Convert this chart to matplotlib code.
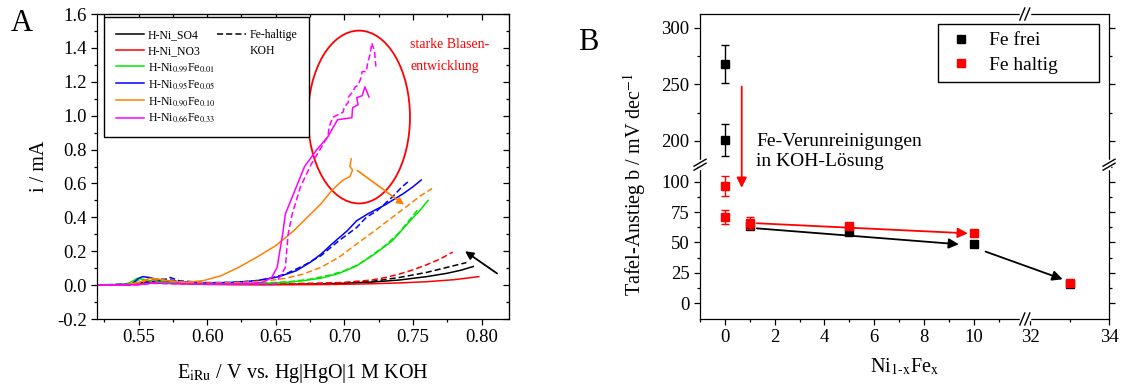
import numpy as np
import matplotlib
matplotlib.use('Agg')
import matplotlib.pyplot as plt
from matplotlib.lines import Line2D
from matplotlib.patches import Ellipse

plt.rcParams['font.family'] = ['Liberation Serif', 'DejaVu Serif']
plt.rcParams['mathtext.fontset'] = 'stix'
plt.rcParams['axes.unicode_minus'] = False

# ---------------- Panel A: current vs potential (solid = Fe-free KOH, dashed = Fe-haltige KOH)
so4_x = [0.52, 0.54, 0.55, 0.56, 0.57, 0.58, 0.60, 0.62, 0.64, 0.66, 0.68, 0.70, 0.72, 0.74, 0.76, 0.775, 0.785, 0.794]
so4_y = [0.0, 0.002, 0.01, 0.025, 0.02, 0.012, 0.006, 0.004, 0.004, 0.005, 0.007, 0.011, 0.018, 0.03, 0.05, 0.07, 0.088, 0.11]
so4_fe_x = [0.52, 0.55, 0.56, 0.57, 0.58, 0.60, 0.64, 0.68, 0.70, 0.72, 0.74, 0.76, 0.77, 0.789]
so4_fe_y = [0.0, 0.005, 0.03, 0.035, 0.02, 0.01, 0.006, 0.01, 0.014, 0.022, 0.045, 0.075, 0.095, 0.133]

no3_x = [0.52, 0.55, 0.56, 0.57, 0.60, 0.64, 0.68, 0.70, 0.72, 0.74, 0.76, 0.78, 0.798]
no3_y = [0.0, 0.004, 0.015, 0.012, 0.004, 0.002, 0.003, 0.005, 0.008, 0.013, 0.02, 0.032, 0.05]
no3_fe_x = [0.52, 0.55, 0.56, 0.57, 0.60, 0.64, 0.68, 0.70, 0.72, 0.73, 0.74, 0.75, 0.76, 0.77, 0.779]
no3_fe_y = [0.0, 0.005, 0.025, 0.02, 0.008, 0.006, 0.01, 0.016, 0.03, 0.045, 0.065, 0.09, 0.12, 0.155, 0.195]

fe01_x = [0.52, 0.54, 0.545, 0.549, 0.553, 0.56, 0.57, 0.58, 0.60, 0.62, 0.64, 0.657, 0.67, 0.683, 0.696, 0.709, 0.722, 0.735, 0.748, 0.755, 0.761]
fe01_y = [0.0, 0.003, 0.02, 0.04, 0.035, 0.02, 0.015, 0.012, 0.008, 0.008, 0.01, 0.016, 0.026, 0.041, 0.069, 0.114, 0.183, 0.262, 0.38, 0.44, 0.50]
fe01_fe_x = [0.52, 0.545, 0.55, 0.556, 0.565, 0.58, 0.60, 0.62, 0.64, 0.66, 0.675, 0.69, 0.70, 0.71, 0.72, 0.73, 0.74, 0.748, 0.754]
fe01_fe_y = [0.0, 0.01, 0.03, 0.03, 0.02, 0.012, 0.008, 0.008, 0.012, 0.02, 0.035, 0.06, 0.085, 0.12, 0.175, 0.235, 0.31, 0.39, 0.45]

fe05_x = [0.52, 0.545, 0.55, 0.553, 0.558, 0.565, 0.58, 0.60, 0.618, 0.636, 0.652, 0.665, 0.675, 0.683, 0.691, 0.702, 0.709, 0.717, 0.730, 0.743, 0.750, 0.756]
fe05_y = [0.0, 0.006, 0.04, 0.05, 0.045, 0.03, 0.02, 0.012, 0.016, 0.026, 0.049, 0.085, 0.134, 0.183, 0.243, 0.32, 0.38, 0.42, 0.475, 0.54, 0.58, 0.62]
fe05_fe_x = [0.52, 0.55, 0.56, 0.565, 0.57, 0.573, 0.58, 0.60, 0.62, 0.631, 0.644, 0.657, 0.670, 0.683, 0.696, 0.709, 0.716, 0.724, 0.735, 0.742, 0.748]
fe05_fe_y = [0.0, 0.005, 0.02, 0.035, 0.03, 0.045, 0.025, 0.015, 0.016, 0.022, 0.036, 0.065, 0.114, 0.174, 0.262, 0.34, 0.40, 0.44, 0.52, 0.58, 0.62]

fe10_x = [0.52, 0.54, 0.55, 0.558, 0.565, 0.571, 0.584, 0.597, 0.610, 0.623, 0.636, 0.650, 0.663, 0.673, 0.683, 0.691, 0.699, 0.704, 0.706, 0.704, 0.705]
fe10_y = [0.0, 0.002, 0.016, 0.04, 0.035, 0.026, 0.016, 0.026, 0.055, 0.105, 0.164, 0.233, 0.32, 0.40, 0.48, 0.56, 0.62, 0.64, 0.68, 0.70, 0.745]
fe10_fe_x = [0.52, 0.55, 0.556, 0.565, 0.58, 0.60, 0.62, 0.644, 0.657, 0.670, 0.683, 0.696, 0.709, 0.722, 0.735, 0.748, 0.756, 0.764]
fe10_fe_y = [0.0, 0.005, 0.03, 0.03, 0.02, 0.012, 0.014, 0.026, 0.04, 0.065, 0.105, 0.164, 0.243, 0.32, 0.40, 0.48, 0.53, 0.57]

fe33_x = [0.52, 0.55, 0.56, 0.58, 0.60, 0.62, 0.64, 0.647, 0.651, 0.655, 0.657, 0.661, 0.665, 0.671, 0.680, 0.688,
          0.695, 0.7055, 0.706, 0.710, 0.709, 0.713, 0.715, 0.718]
fe33_y = [0.0, 0.003, 0.012, 0.008, 0.005, 0.006, 0.015, 0.045, 0.105, 0.30, 0.42, 0.50, 0.58, 0.70, 0.80, 0.876,
          0.976, 0.988, 1.047, 1.065, 1.106, 1.118, 1.17, 1.11]
fe33_fe_x = [0.52, 0.55, 0.56, 0.60, 0.64, 0.650, 0.657, 0.659, 0.662, 0.668, 0.676, 0.683, 0.688, 0.689, 0.6915,
             0.699, 0.700, 0.703, 0.703, 0.706, 0.708, 0.710, 0.712, 0.713, 0.716, 0.717, 0.719, 0.720, 0.722, 0.723]
fe33_fe_y = [0.0, 0.002, 0.01, 0.005, 0.006, 0.006, 0.105, 0.30, 0.42, 0.58, 0.716, 0.81, 0.88, 0.935, 0.99,
             1.02, 1.05, 1.08, 1.11, 1.14, 1.17, 1.18, 1.22, 1.26, 1.26, 1.31, 1.37, 1.43, 1.38, 1.29]

labels_A = ['H-Ni_SO4', 'H-Ni_NO3', 'H-Ni$_{0.99}$Fe$_{0.01}$', 'H-Ni$_{0.95}$Fe$_{0.05}$',
            'H-Ni$_{0.90}$Fe$_{0.10}$', 'H-Ni$_{0.66}$Fe$_{0.33}$']
colors_A = ['black', '#ff0000', '#00e600', '#0000ff', '#ff8000', '#ff00ff']

# ---------------- Panel B: Tafel slopes
frei_x = [0, 0, 1, 5, 10, 33]
frei_y = [268, 201, 63.5, 58.5, 48.5, 15.5]
frei_err = [17, 14, 0, 0, 0, 0]
haltig_x = [0, 0, 1, 5, 10, 33]
haltig_y = [96.5, 71, 66, 63.5, 57.5, 16.5]
haltig_err = [8, 6, 5, 2, 1.5, 1.5]

fig = plt.figure(figsize=(11.24, 3.87), dpi=100)
axA = fig.add_axes([0.0867, 0.1757, 0.3661, 0.7881])
axB = fig.add_axes([0.6228, 0.1757, 0.3639, 0.7881])

dash = (0, (4, 2))

#############
# Panel A
#############
solids = [(so4_x, so4_y), (no3_x, no3_y), (fe01_x, fe01_y), (fe05_x, fe05_y), (fe10_x, fe10_y), (fe33_x, fe33_y)]
dashed = [(so4_fe_x, so4_fe_y), (no3_fe_x, no3_fe_y), (fe01_fe_x, fe01_fe_y), (fe05_fe_x, fe05_fe_y),
          (fe10_fe_x, fe10_fe_y), (fe33_fe_x, fe33_fe_y)]

handles = []
for (xs, ys), (xd, yd), c in zip(solids, dashed, colors_A):
    h, = axA.plot(xs, ys, color=c, lw=1.1)
    axA.plot(xd, yd, color=c, lw=1.1, ls=dash)
    handles.append(h)

axA.set_xlim(0.52, 0.82)
axA.set_ylim(-0.2, 1.6)
axA.set_xticks(np.arange(0.55, 0.801, 0.05))
axA.set_xticks(np.arange(0.525, 0.82, 0.05), minor=True)
axA.set_yticks(np.arange(-0.2, 1.61, 0.2))
axA.set_yticks(np.arange(-0.1, 1.6, 0.2), minor=True)
axA.xaxis.set_major_formatter(matplotlib.ticker.FormatStrFormatter('%.2f'))
axA.yaxis.set_major_formatter(matplotlib.ticker.FormatStrFormatter('%.1f'))
axA.tick_params(which='both', direction='out', labelsize=13.5, width=0.9)
axA.tick_params(which='major', length=4)
axA.tick_params(which='minor', length=2.5)
for s in axA.spines.values():
    s.set_linewidth(0.9)

secx = axA.secondary_xaxis('top')
secx.set_xticks(np.arange(0.55, 0.801, 0.05))
secx.set_xticks(np.arange(0.525, 0.82, 0.05), minor=True)
secx.tick_params(which='both', direction='in', labeltop=False, width=0.9)
secx.tick_params(which='major', length=4)
secx.tick_params(which='minor', length=2.5)
secy = axA.secondary_yaxis('right')
secy.set_yticks(np.arange(-0.2, 1.61, 0.2))
secy.set_yticks(np.arange(-0.1, 1.6, 0.2), minor=True)
secy.tick_params(which='both', direction='in', labelright=False, width=0.9)
secy.tick_params(which='major', length=4)
secy.tick_params(which='minor', length=2.5)

axA.set_xlabel(r'E$_{\mathrm{iRu}}$ / V vs. Hg|HgO|1 M KOH', fontsize=14.5, labelpad=11)
axA.set_ylabel('i / mA', fontsize=14.5, labelpad=6)

dash_h = Line2D([], [], color='black', lw=1.1, ls=dash)
blank = Line2D([], [], color='none')
leg = axA.legend(handles + [dash_h, blank, blank, blank, blank, blank],
                 labels_A + ['Fe-haltige', 'KOH', '', '', '', ''],
                 ncol=2, loc='upper left', bbox_to_anchor=(0.016, 0.99), borderaxespad=0,
                 fontsize=8.5, fancybox=False, edgecolor='black', framealpha=1,
                 handlelength=2.4, handletextpad=0.3, columnspacing=0.2, borderpad=1.0,
                 labelspacing=0.35)
leg.get_frame().set_linewidth(1.0)

axA.add_patch(Ellipse((0.7107, 0.992), 0.0743, 1.02, fill=False, ec='red', lw=1.3))
axA.text(0.748, 1.355, 'starke Blasen-\nentwicklung', color='red', fontsize=10,
         linespacing=1.9, va='center', ha='left')
axA.annotate('', xy=(0.7435, 0.475), xytext=(0.7094, 0.677),
             arrowprops=dict(arrowstyle='-|>', color='#ff8000', lw=1.2, mutation_scale=10,
                             shrinkA=0, shrinkB=0))
axA.annotate('', xy=(0.788, 0.20), xytext=(0.8113, 0.069),
             arrowprops=dict(arrowstyle='-|>', color='black', lw=1.3, mutation_scale=12,
                             shrinkA=0, shrinkB=0))

#############
# Panel B (broken axes via piecewise scale)
#############
x_lo, x_hi = 12.05, 31.86
y_lo, y_hi = 114, 179


def piecewise(lo, hi, s1, s2):
    src = np.array([-1000.0, lo, hi, 1000.0])
    d_lo = lo * s1
    dst = np.array([-1000.0 * s1, d_lo, d_lo + 1e-3, d_lo + 1e-3 + (1000.0 - hi) * s2])

    def fwd(v):
        return np.interp(v, src, dst)

    def inv(v):
        return np.interp(v, dst, src)
    return fwd, inv


fx, ix = piecewise(x_lo, x_hi, 24.85, 39.3)
fy, iy = piecewise(y_lo, y_hi, 1.212, 1.13)
axB.set_xscale('function', functions=(fx, ix))
axB.set_yscale('function', functions=(fy, iy))
axB.set_xlim(-1, 34)
axB.set_ylim(-13, 312)

axB.errorbar(frei_x, frei_y, yerr=frei_err, fmt='s', color='black', ms=6, capsize=3,
             elinewidth=1, capthick=1, zorder=3)
axB.errorbar(haltig_x, haltig_y, yerr=haltig_err, fmt='s', color='#ff0000', ms=6, capsize=3,
             elinewidth=1, capthick=1, zorder=4)

axB.set_xticks([0, 2, 4, 6, 8, 10, 32, 34])
axB.set_xticks([-1, 1, 3, 5, 7, 9, 11, 33], minor=True)
axB.set_yticks([0, 25, 50, 75, 100, 200, 250, 300])
axB.set_yticks([12.5, 37.5, 62.5, 87.5, 112.5, 225, 275], minor=True)
axB.set_xticklabels(['0', '2', '4', '6', '8', '10', '32', '34'])
axB.set_yticklabels(['0', '25', '50', '75', '100', '200', '250', '300'])
axB.tick_params(which='both', direction='out', labelsize=13.5, width=0.9, right=True)
axB.tick_params(which='major', length=4)
axB.tick_params(which='minor', length=2.5)
for s in axB.spines.values():
    s.set_linewidth(0.9)

axB.set_xlabel(r'Ni$_{\mathrm{1\text{-}x}}$Fe$_{\mathrm{x}}$', fontsize=14.5, labelpad=7)
axB.set_ylabel(r'Tafel-Anstieg b / mV dec$^{\mathrm{-1}}$', fontsize=14.5)
axB.yaxis.set_label_coords(-0.127, 0.443)

nb = '\u00a0' * 7
leg_handles_B = [Line2D([], [], ls='none', marker='s', ms=6, color='black'),
                 Line2D([], [], ls='none', marker='s', ms=6, color='#ff0000')]
legB = axB.legend(leg_handles_B, ['Fe frei' + nb, 'Fe haltig' + nb], loc='upper right',
                  bbox_to_anchor=(0.976, 0.967), borderaxespad=0, fontsize=14,
                  fancybox=False, edgecolor='black', framealpha=1, handletextpad=0.6,
                  handlelength=1.6, labelspacing=0.35, borderpad=0.4)
legB.get_frame().set_linewidth(1.0)

axB.text(1.25, 207, 'Fe-Verunreinigungen\nin KOH-Lösung', fontsize=14, va='top', ha='left')

arrow_kw = dict(arrowstyle='-|>', lw=1.3, mutation_scale=15, shrinkA=0, shrinkB=0)
axB.annotate('', xy=(0.675, 95), xytext=(0.675, 248), arrowprops=dict(color='#ff0000', **arrow_kw))
axB.annotate('', xy=(9.76, 57.5), xytext=(1.28, 65.8), arrowprops=dict(color='#ff0000', **arrow_kw))
axB.annotate('', xy=(9.4, 48.5), xytext=(1.28, 61.6), arrowprops=dict(color='black', **arrow_kw))
axB.annotate('', xy=(32.82, 19.7), xytext=(10.47, 42.5), arrowprops=dict(color='black', **arrow_kw))

# break marks on the spines
x0, x1 = fx(-1), fx(34)
y0, y1 = fy(-13), fy(312)
xb = (fx(x_lo) - x0) / (x1 - x0)
yb = (fy(y_lo) - y0) / (y1 - y0)
w_px = 1124 * 0.3639
h_px = 387 * 0.7881


def px(dx, dy):
    return dx / w_px, dy / h_px


for yf in (0, 1):
    gx, _ = px(4, 0)
    axB.plot([xb - gx, xb + gx], [yf, yf], color='white', lw=2.5, transform=axB.transAxes,
             clip_on=False, zorder=5)
    for s in (-2.5, 2.5):
        ox, _ = px(s, 0)
        ax_, ay_ = px(2.5, 6)
        axB.plot([xb + ox - ax_, xb + ox + ax_], [yf - ay_, yf + ay_], color='black', lw=1,
                 transform=axB.transAxes, clip_on=False, zorder=6)
for xf in (0, 1):
    _, gy = px(0, 3.5)
    axB.plot([xf, xf], [yb - gy, yb + gy], color='white', lw=2.5, transform=axB.transAxes,
             clip_on=False, zorder=5)
    for s in (-2, 2):
        _, oy = px(0, s)
        ax_, ay_ = px(6, 3.5)
        axB.plot([xf - ax_, xf + ax_], [yb + oy - ay_, yb + oy + ay_], color='black', lw=1,
                 transform=axB.transAxes, clip_on=False, zorder=6)

fig.text(0.019, 0.94, 'A', fontsize=22, ha='center', va='center')
fig.text(0.523, 0.89, 'B', fontsize=22, ha='center', va='center')

fig.savefig('out.png', dpi=100)
